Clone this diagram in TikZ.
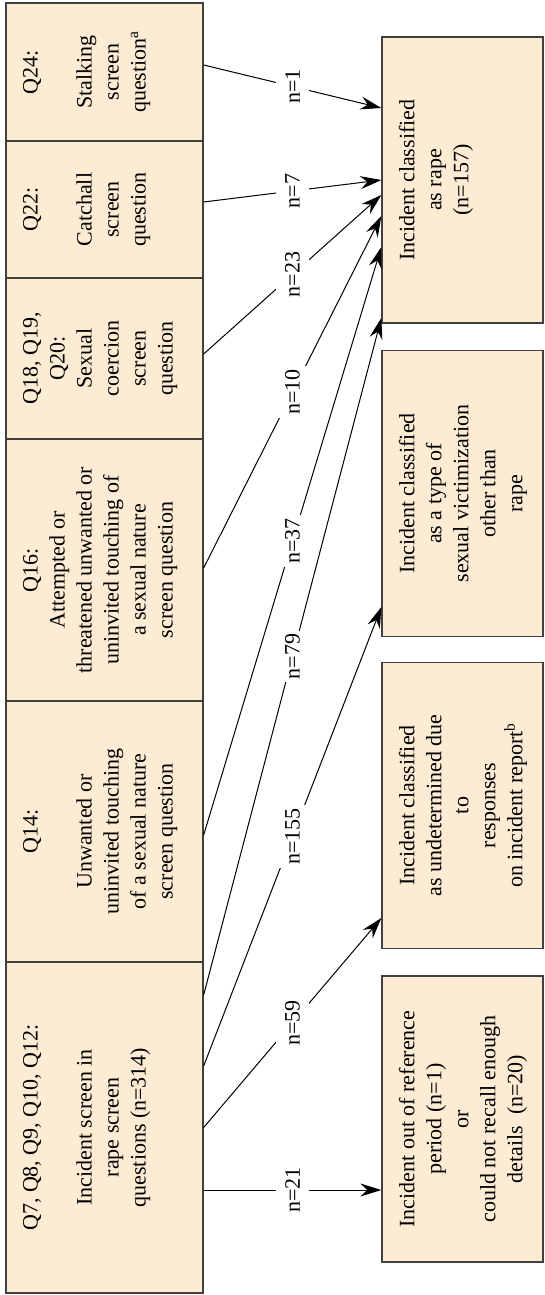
\documentclass[tikz,border=0pt]{standalone}
\usepackage{fontspec}
\setmainfont{Liberation Serif}
\usetikzlibrary{arrows.meta}
\definecolor{boxfill}{RGB}{253,235,212}
\definecolor{boxline}{RGB}{64,64,64}
\newcommand{\boxtext}[3]{\rotatebox{90}{\begin{minipage}[c][#1][t]{#2}\centering #3\end{minipage}}}
\tikzset{
  qbox/.style={draw=boxline, fill=boxfill, line width=1.3pt, inner sep=0pt, minimum width=197pt},
  rbox/.style={draw=boxline, fill=boxfill, line width=1.3pt, inner sep=0pt, minimum width=161pt, minimum height=286pt},
  flow/.style={line width=1pt, -{Stealth[length=21pt,width=13pt,inset=7pt]}},
  count/.style={midway, fill=white, rotate=90, inner xsep=3pt, inner ysep=9pt}
}
\begin{document}
\begin{tikzpicture}[x=1pt,y=-1pt,font=\fontsize{22}{27}\selectfont]
\useasboundingbox (0,0) rectangle (545,1295);
% screen questions
\node[qbox, minimum height=138pt] (q24) at (104.5,72) {\boxtext{163pt}{130pt}{Q24:\\[27pt]Stalking\\screen\\question\textsuperscript{a}}};
\node[qbox, minimum height=137pt] (q22) at (104.5,209.5) {\boxtext{163pt}{129pt}{Q22:\\[27pt]Catchall\\screen\\question}};
\node[qbox, minimum height=161pt] (q18) at (104.5,358.5) {\boxtext{163pt}{153pt}{Q18, Q19,\\Q20:\\Sexual\\coercion\\screen\\question}};
\node[qbox, minimum height=262pt] (q16) at (104.5,570) {\boxtext{163pt}{254pt}{Q16:\\Attempted or\\threatened unwanted or\\uninvited touching of\\a sexual nature\\screen question}};
\node[qbox, minimum height=261pt] (q14) at (104.5,831.5) {\boxtext{163pt}{253pt}{Q14:\\[27pt]Unwanted or\\uninvited touching\\of a sexual nature\\screen question}};
\node[qbox, minimum height=331pt] (q7) at (104.5,1127.5) {\boxtext{163pt}{300pt}{Q7, Q8, Q9, Q10, Q12:\\[27pt]Incident screen in\\rape screen\\questions (n=314)}};
% outcomes
\node[rbox] (rape) at (462.5,180) {\boxtext{127pt}{276pt}{Incident classified\\as rape\\(n=157)}};
\node[rbox] (other) at (462.5,493.5) {\boxtext{127pt}{276pt}{Incident classified\\as a type of\\sexual victimization\\other than\\rape}};
\node[rbox] (undet) at (462.5,805.5) {\boxtext{127pt}{276pt}{Incident classified\\as undetermined due\\to\\responses\\on incident report\textsuperscript{b}}};
\node[rbox] (outref) at (462.5,1119) {\boxtext{127pt}{276pt}{Incident out of reference\\period (n=1)\\or\\could not recall enough\\details\ \ (n=20)}};
% flows
\draw[flow] ([yshift=7pt]q24.east) -- ([yshift=72pt]rape.west) node[count] {n=1};
\draw[flow] ([yshift=7.5pt]q22.east) -- (rape.west) node[count] {n=7};
\draw[flow] ([yshift=4.5pt]q18.east) -- ([yshift=-15pt]rape.west) node[count] {n=23};
\draw[flow] ([yshift=2pt]q16.east) -- ([yshift=-36pt]rape.west) node[count] {n=10};
\draw[flow] ([yshift=-3.5pt]q14.east) -- ([yshift=-67pt]rape.west) node[count] {n=37};
\draw[flow] ([yshift=132.5pt]q7.east) -- ([yshift=-138pt]rape.west) node[count] {n=79};
\draw[flow] ([yshift=61.5pt]q7.east) -- ([yshift=-113.5pt]other.west) node[count] {n=155};
\draw[flow] (q7.east) -- ([yshift=-112.5pt]undet.west) node[count] {n=59};
\draw[flow] ([yshift=-62.5pt]q7.east) -- ([yshift=-71pt]outref.west) node[count] {n=21};
\end{tikzpicture}
\end{document}
